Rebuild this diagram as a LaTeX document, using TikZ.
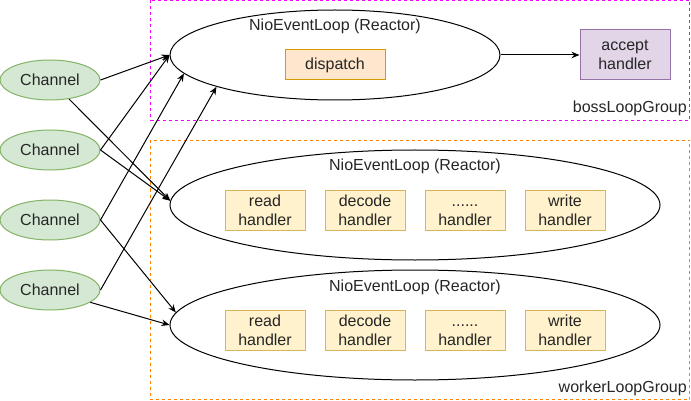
\documentclass[tikz,border=0pt]{standalone}
\usepackage{fontspec}
\setmainfont{Liberation Sans}
\usetikzlibrary{shapes.geometric,arrows.meta}
\definecolor{chfill}{HTML}{D5E8D4}
\definecolor{chline}{HTML}{82B366}
\definecolor{dpfill}{HTML}{FFE6CC}
\definecolor{dpline}{HTML}{D79B00}
\definecolor{acfill}{HTML}{E1D5E7}
\definecolor{acline}{HTML}{9673A6}
\definecolor{hdfill}{HTML}{FFF2CC}
\definecolor{hdline}{HTML}{D6B656}
\definecolor{bossline}{HTML}{FF00FF}
\definecolor{workerline}{HTML}{FF8000}
\definecolor{txt}{HTML}{262626}
\tikzset{
  every node/.style={font=\fontsize{16}{19}\selectfont, text=txt, inner sep=0pt},
  channel/.style={ellipse, draw=chline, fill=chfill, line width=1pt,
    minimum width=100pt, minimum height=40pt},
  loop/.style={ellipse, draw=black, line width=1pt},
  handlerbox/.style={rectangle, draw=hdline, fill=hdfill, line width=1pt,
    minimum width=80pt, minimum height=40pt, align=center},
  groupbox/.style={dashed, dash pattern=on 3pt off 3pt, line width=1pt},
  conn/.style={line width=1pt, -{Stealth[length=8pt,width=6.5pt]}},
}
\newcommand{\dotsline}{\vphantom{h}......}
\begin{document}
\begin{tikzpicture}[x=1pt,y=-1pt]
\useasboundingbox (0,0) rectangle (691,401);

% thread groups
\draw[groupbox, draw=bossline] (150.5,0.5) rectangle (689.5,120.5);
\draw[groupbox, draw=workerline] (150.5,140.5) rectangle (689.5,399.5);
\node[anchor=east] (bosslbl) at (687,108) {bossLoopGroup};
\node[anchor=east] (workerlbl) at (687,388) {workerLoopGroup};

% boss event loop
\node[loop, minimum width=330pt, minimum height=90pt] (boss) at (335,55) {};
\node (bosstitle) at (335,26) {NioEventLoop (Reactor)};
\node[rectangle, draw=dpline, fill=dpfill, line width=1pt,
  minimum width=100pt, minimum height=30pt] (dispatch) at (335,65) {dispatch};
\node[rectangle, draw=acline, fill=acfill, line width=1pt,
  minimum width=90pt, minimum height=50pt, align=center] (accept) at (625,55) {accept\\handler};

% worker event loops
\node[loop, minimum width=490pt, minimum height=110pt] (w1) at (415,205) {};
\node (w1title) at (415,166) {NioEventLoop (Reactor)};
\node[handlerbox] (w1read) at (265,210) {read\\handler};
\node[handlerbox] (w1decode) at (365,210) {decode\\handler};
\node[handlerbox] (w1more) at (465,210) {\dotsline\\handler};
\node[handlerbox] (w1write) at (565,210) {write\\handler};

\node[loop, minimum width=490pt, minimum height=110pt] (w2) at (415,325) {};
\node (w2title) at (415,287) {NioEventLoop (Reactor)};
\node[handlerbox] (w2read) at (265,330) {read\\handler};
\node[handlerbox] (w2decode) at (365,330) {decode\\handler};
\node[handlerbox] (w2more) at (465,330) {\dotsline\\handler};
\node[handlerbox] (w2write) at (565,330) {write\\handler};

% channels
\node[channel] (ch1) at (50,80) {Channel};
\node[channel] (ch2) at (50,150) {Channel};
\node[channel] (ch3) at (50,220) {Channel};
\node[channel] (ch4) at (50,290) {Channel};

% connections
\draw[conn] (boss.east) -- (accept.west);
\draw[conn] (ch1.east) -- (boss.west);
\draw[conn] (ch2.east) -- (boss.west);
\draw[conn] (ch3.east) -- (boss.187.6);
\draw[conn] (ch4.east) -- (boss.195.6);
\draw[conn] (ch1.-45) -- (w1.179);
\draw[conn] (ch2.east) -- (w1.179);
\draw[conn] (ch3.east) -- (w2.177.6);
\draw[conn] (ch4.-17) -- (w2.west);
\end{tikzpicture}
\end{document}
